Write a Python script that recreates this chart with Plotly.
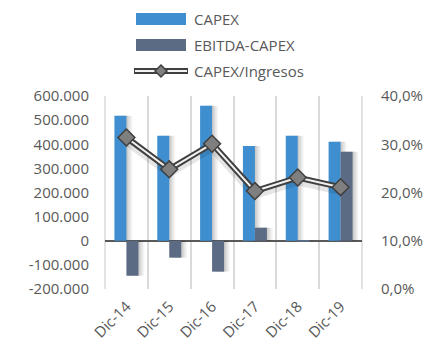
import plotly.graph_objects as go

# Series data
periods = ["Dic-14", "Dic-15", "Dic-16", "Dic-17", "Dic-18", "Dic-19"]
capex = [518000, 435000, 560000, 393000, 435000, 410000]
ebitda_capex = [-145000, -70000, -128000, 54000, -2000, 369000]
capex_ingresos = [0.314, 0.248, 0.301, 0.203, 0.231, 0.211]

left_ticks = [-200000, -100000, 0, 100000, 200000, 300000, 400000, 500000, 600000]
left_ticktext = ["-200.000", "-100.000", "0", "100.000", "200.000",
                 "300.000", "400.000", "500.000", "600.000"]
right_ticks = [0, 0.1, 0.2, 0.3, 0.4]
right_ticktext = ["0,0%", "10,0%", "20,0%", "30,0%", "40,0%"]

W, H = 428, 341
M_L, M_R, M_T, M_B = 105, 66, 96, 52
PW, PH = W - M_L - M_R, H - M_T - M_B

BLUE = "#3f8fd0"
SLATE = "#5b6b83"
DARK = "#404040"
TEXT = "#595959"
GRID = "#d9d9d9"
FONT = "Open Sans"

BW = 0.28  # bar width in category units


def px(x):
    return (x - M_L) / PW


def py(y):
    return (H - M_B - y) / PH


fig = go.Figure()

# soft drop shadows behind the bars
for k, a in [(1, 0.07), (2, 0.06), (3, 0.05), (4, 0.04)]:
    d = k * 0.035
    fig.add_bar(x=periods, y=capex, offset=-BW + d, width=BW,
                marker=dict(color=f"rgba(0,0,0,{a})", line_width=0),
                showlegend=False, hoverinfo="skip")
    fig.add_bar(x=periods, y=ebitda_capex, offset=d, width=BW,
                marker=dict(color=f"rgba(0,0,0,{a})", line_width=0),
                showlegend=False, hoverinfo="skip")

fig.add_bar(x=periods, y=capex, offset=-BW, width=BW, name="CAPEX",
            marker=dict(color=BLUE, line_width=0), showlegend=False)
fig.add_bar(x=periods, y=ebitda_capex, offset=0, width=BW, name="EBITDA-CAPEX",
            marker=dict(color=SLATE, line_width=0), showlegend=False)

# faint shadow under the ratio line
fig.add_scatter(x=periods, y=[v - 0.007 for v in capex_ingresos], yaxis="y2",
                mode="lines", line=dict(color="rgba(0,0,0,0.10)", width=9),
                showlegend=False, hoverinfo="skip")
# double-stroke ratio line
fig.add_scatter(x=periods, y=capex_ingresos, yaxis="y2", mode="lines",
                line=dict(color=DARK, width=6), showlegend=False, hoverinfo="skip")
fig.add_scatter(x=periods, y=capex_ingresos, yaxis="y2", mode="lines+markers",
                name="CAPEX/Ingresos",
                line=dict(color="#f2f2f2", width=2),
                marker=dict(symbol="diamond", size=13, color="#7f7f7f",
                            line=dict(color=DARK, width=1.5)),
                showlegend=False)

shapes = []
annotations = []

# outer vertical borders of the plot area
for xe in (0, 1):
    shapes.append(dict(type="line", xref="paper", yref="paper", layer="below",
                       x0=xe, x1=xe, y0=0, y1=1, line=dict(color=GRID, width=1.5)))

# legend drawn by hand: wide swatches with labels
legend_items = [("CAPEX", 19), ("EBITDA-CAPEX", 45), ("CAPEX/Ingresos", 71)]
for (label, yc), color in zip(legend_items[:2], [BLUE, SLATE]):
    shapes.append(dict(type="rect", xref="paper", yref="paper",
                       x0=px(136), x1=px(186), y0=py(yc + 6), y1=py(yc - 6),
                       fillcolor=color, line_width=0))
yc = legend_items[2][1]
shapes.append(dict(type="line", xref="paper", yref="paper",
                   x0=px(134), x1=px(188), y0=py(yc), y1=py(yc),
                   line=dict(color=DARK, width=6)))
shapes.append(dict(type="line", xref="paper", yref="paper",
                   x0=px(135), x1=px(187), y0=py(yc), y1=py(yc),
                   line=dict(color="#f2f2f2", width=2)))
cx, r = 161, 6
shapes.append(dict(type="path", xref="paper", yref="paper",
                   path=(f"M {px(cx - r)},{py(yc)} L {px(cx)},{py(yc - r)} "
                         f"L {px(cx + r)},{py(yc)} L {px(cx)},{py(yc + r)} Z"),
                   fillcolor="#7f7f7f", line=dict(color=DARK, width=1.5)))
for label, yc in legend_items:
    annotations.append(dict(text=label, xref="paper", yref="paper",
                            x=px(192), y=py(yc), xanchor="left", yanchor="middle",
                            showarrow=False, font=dict(family=FONT, size=15, color=TEXT)))

fig.update_layout(
    width=W, height=H,
    margin=dict(l=M_L, r=M_R, t=M_T, b=M_B, pad=0, autoexpand=False),
    paper_bgcolor="white", plot_bgcolor="white",
    barmode="overlay",
    showlegend=False,
    font=dict(family=FONT, size=15, color=TEXT),
    xaxis=dict(type="category", tickson="boundaries", showgrid=True,
               gridcolor=GRID, gridwidth=1.5, ticks="", tickangle=-45,
               showline=False, zeroline=False, ticklabelstandoff=5,
               automargin=False,
               tickfont=dict(family=FONT, size=15, color=TEXT)),
    yaxis=dict(range=[-200000, 600000], tickvals=left_ticks, ticktext=left_ticktext,
               showgrid=False, zeroline=True, zerolinecolor=TEXT, zerolinewidth=2,
               showline=False, ticks="", ticklabelstandoff=15, automargin=False,
               tickfont=dict(family=FONT, size=15, color=TEXT)),
    yaxis2=dict(range=[0, 0.4], tickvals=right_ticks, ticktext=right_ticktext,
                overlaying="y", side="right", showgrid=False, zeroline=False,
                showline=False, ticks="", ticklabelstandoff=18, automargin=False,
                tickfont=dict(family=FONT, size=15, color=TEXT)),
    shapes=shapes,
    annotations=annotations,
)

fig.write_html("out.html")
